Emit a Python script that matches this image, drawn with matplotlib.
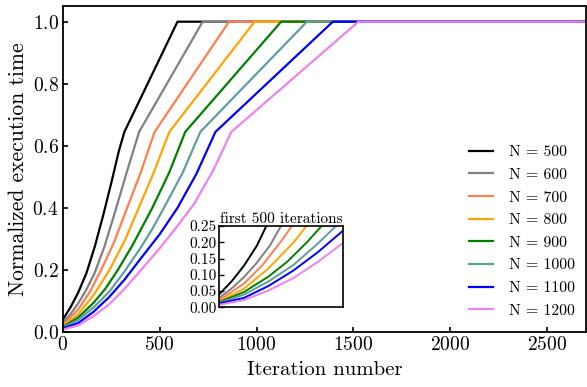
import matplotlib
matplotlib.use("Agg")
import matplotlib.pyplot as plt
from matplotlib.ticker import FormatStrFormatter

plt.rcParams["font.family"] = "serif"
plt.rcParams["font.serif"] = ["cmr10"]
plt.rcParams["mathtext.fontset"] = "cm"
plt.rcParams["axes.formatter.use_mathtext"] = True

# ---------- data ----------
labels = ["N = 500", "N = 600", "N = 700", "N = 800",
          "N = 900", "N = 1000", "N = 1100", "N = 1200"]
colors = ["black", "gray", "coral", "orange", "green", "cadetblue", "blue", "violet"]

x500 = [0, 40, 80, 122, 165, 210, 250, 290, 318, 592, 2700]
y500 = [0.04, 0.08, 0.128, 0.19, 0.275, 0.38, 0.48, 0.585, 0.645, 1.0, 1.0]
x600 = [0, 40, 80, 120, 164, 215, 271, 330, 394, 722, 2700]
y600 = [0.029, 0.058, 0.093, 0.135, 0.19, 0.275, 0.39, 0.515, 0.645, 1.0, 1.0]
x700 = [0, 80, 140, 198, 265, 332, 400, 474, 858, 2700]
y700 = [0.022, 0.073, 0.13, 0.20, 0.29, 0.40, 0.51, 0.645, 1.0, 1.0]
x800 = [0, 80, 160, 241, 320, 392, 470, 550, 990, 2700]
y800 = [0.018, 0.057, 0.12, 0.20, 0.295, 0.40, 0.515, 0.645, 1.0, 1.0]
x900 = [0, 80, 160, 220, 284, 360, 462, 550, 632, 1127, 2700]
y900 = [0.016, 0.047, 0.095, 0.14, 0.20, 0.28, 0.40, 0.515, 0.645, 1.0, 1.0]
x1000 = [0, 80, 160, 240, 318, 400, 460, 522, 620, 710, 1260, 2700]
y1000 = [0.014, 0.039, 0.08, 0.13, 0.195, 0.27, 0.33, 0.40, 0.515, 0.645, 1.0, 1.0]
x1100 = [0, 80, 160, 240, 320, 400, 500, 592, 690, 788, 1394, 2700]
y1100 = [0.012, 0.029, 0.066, 0.113, 0.17, 0.235, 0.315, 0.40, 0.51, 0.645, 1.0, 1.0]
x1200 = [0, 80, 160, 240, 320, 404, 500, 590, 680, 780, 870, 1526, 2700]
y1200 = [0.008, 0.022, 0.052, 0.09, 0.14, 0.20, 0.27, 0.34, 0.415, 0.525, 0.645, 1.0, 1.0]

xs = [x500, x600, x700, x800, x900, x1000, x1100, x1200]
ys = [y500, y600, y700, y800, y900, y1000, y1100, y1200]

# ---------- figure ----------
fig = plt.figure(figsize=(5.87, 3.87), dpi=100)
ax = fig.add_axes([0.107, 0.142, 0.891, 0.842])
for x, y, c, l in zip(xs, ys, colors, labels):
    ax.plot(x, y, color=c, lw=1.6, label=l)
ax.set_xlim(0, 2700)
ax.set_ylim(0, 1.05)
ax.set_xticks([0, 500, 1000, 1500, 2000, 2500])
ax.set_yticks([0.0, 0.2, 0.4, 0.6, 0.8, 1.0])
ax.tick_params(direction="in", labelsize=14, width=1.2, pad=3)
for s in ax.spines.values():
    s.set_linewidth(1.3)
ax.set_xlabel("Iteration number", fontsize=15, labelpad=5)
ax.set_ylabel("Normalized execution time", fontsize=15.5, labelpad=3)
ax.legend(frameon=False, loc="lower right", bbox_to_anchor=(0.991, 0.025),
          prop={"family": "cmr10", "size": 11.3}, handlelength=1.55,
          handletextpad=1.0, labelspacing=0.55, borderaxespad=0.0)

ins = fig.add_axes([0.3736, 0.2059, 0.2102, 0.210])
for x, y, c in zip(xs, ys, colors):
    ins.plot(x, y, color=c, lw=1.4)
ins.set_xlim(0, 400)
ins.set_ylim(0, 0.25)
ins.set_xticks([])
ins.set_yticks([0.0, 0.05, 0.1, 0.15, 0.2, 0.25])
ins.yaxis.set_major_formatter(FormatStrFormatter("%.2f"))
ins.tick_params(direction="in", labelsize=11, width=1.0, pad=2)
for s in ins.spines.values():
    s.set_linewidth(1.2)
ins.set_title("first 500 iterations", fontsize=11, pad=2)

fig.savefig("out.png", dpi=100)
